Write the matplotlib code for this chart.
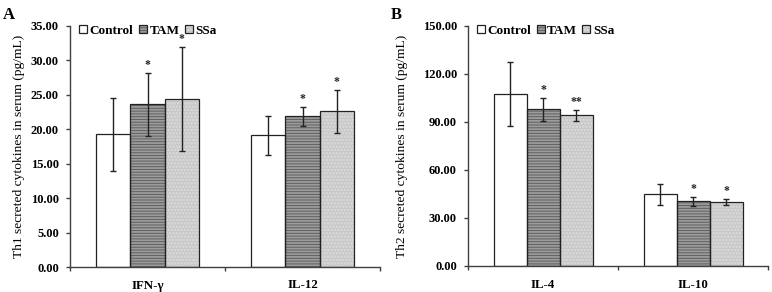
import matplotlib
matplotlib.use("Agg")
import matplotlib.pyplot as plt
from matplotlib.patches import Patch
from matplotlib.legend_handler import HandlerTuple
import numpy as np

plt.rcParams['font.family'] = ['Liberation Serif', 'DejaVu Serif']
plt.rcParams['font.weight'] = 'bold'
plt.rcParams['hatch.linewidth'] = 1.3

groups = ['Control', 'TAM', 'SSa']

# panel A (Th1)
cats_a = ['IFN-γ', 'IL-12']
mean_a = {'Control': [19.3, 19.1], 'TAM': [23.6, 21.9], 'SSa': [24.4, 22.6]}
err_a = {'Control': [5.3, 2.8], 'TAM': [4.6, 1.4], 'SSa': [7.6, 3.1]}
star_a = {'Control': ['', ''], 'TAM': ['*', '*'], 'SSa': ['*', '*']}

# panel B (Th2)
cats_b = ['IL-4', 'IL-10']
mean_b = {'Control': [107.3, 44.7], 'TAM': [97.9, 40.4], 'SSa': [94.2, 40.2]}
err_b = {'Control': [20.1, 6.3], 'TAM': [7.2, 2.6], 'SSa': [3.6, 1.9]}
star_b = {'Control': ['', ''], 'TAM': ['*', '*'], 'SSa': ['**', '*']}

styles = {
    'Control': dict(face='white', hatch=None, hcol='white'),
    'TAM': dict(face='#5f5f5f', hatch='------', hcol='#9c9c9c'),
    'SSa': dict(face='#c6c6c6', hatch='.....', hcol='#dedede'),
}
axis_col = '#404040'

fig = plt.figure(figsize=(7.72, 2.92), dpi=100)
ax_a = fig.add_axes([70 / 772, 1 - 267 / 292, 310 / 772, 241 / 292])
ax_b = fig.add_axes([468 / 772, 1 - 266 / 292, 300 / 772, 240 / 292])


def draw(ax, cats, means, errs, stars, ymax, ystep, ylabel, label_x):
    x = np.arange(len(cats))
    w = 0.22
    for i, g in enumerate(groups):
        st = styles[g]
        pos = x + (i - 1) * w
        ax.bar(pos, means[g], w, color=st['face'], hatch=st['hatch'],
               edgecolor=st['hcol'], linewidth=0, zorder=2)
        ax.bar(pos, means[g], w, fill=False, edgecolor='#222222',
               linewidth=0.9, zorder=3)
        ax.errorbar(pos, means[g], yerr=errs[g], fmt='none', ecolor='#222222',
                    elinewidth=1.0, capsize=2.5, capthick=1.0, zorder=4)
        for p, m, e, s in zip(pos, means[g], errs[g], stars[g]):
            if s:
                ax.text(p, m + e + ymax * 0.008, s, ha='center', va='bottom',
                        fontsize=8.5, color='#222222', zorder=5)
    ax.set_xlim(-0.5, len(cats) - 0.5)
    ax.set_ylim(0, ymax)
    ticks = np.arange(0, ymax + ystep / 2, ystep)
    ax.set_yticks(ticks)
    ax.set_yticklabels(['%.2f' % v for v in ticks])
    ax.set_xticks(x)
    ax.set_xticklabels(cats)
    ax.set_xticks(np.arange(-0.5, len(cats)), minor=True)
    ax.tick_params(axis='x', which='major', length=0, pad=9, labelsize=9.3)
    ax.tick_params(axis='x', which='minor', length=3, width=1, color=axis_col)
    ax.tick_params(axis='y', length=3, width=1, color=axis_col, pad=5, labelsize=9)
    for sp in ['top', 'right']:
        ax.spines[sp].set_visible(False)
    for sp in ['left', 'bottom']:
        ax.spines[sp].set_color(axis_col)
        ax.spines[sp].set_linewidth(1)
    ax.set_ylabel(ylabel, fontsize=9.7)
    ax.yaxis.set_label_coords(label_x, 0.5)

    handles = []
    for g in groups:
        st = styles[g]
        handles.append((Patch(facecolor=st['face'], hatch=st['hatch'],
                              edgecolor=st['hcol'], linewidth=0),
                        Patch(fill=False, edgecolor='#222222', linewidth=0.9)))
    ax.legend(handles, groups, ncol=3, loc='upper left',
              bbox_to_anchor=(0.03, 1.005), frameon=False, fontsize=9.5,
              handlelength=0.6, handleheight=0.6, handletextpad=0.2,
              columnspacing=0.4, borderpad=0, borderaxespad=0,
              handler_map={tuple: HandlerTuple(ndivide=1, pad=0)})


draw(ax_a, cats_a, mean_a, err_a, star_a, 35, 5,
     'Th1 secreted cytokines in serum (pg/mL)', -45 / 310)
draw(ax_b, cats_b, mean_b, err_b, star_b, 150, 30,
     'Th2 secreted cytokines in serum (pg/mL)', -60 / 300)

fig.text(3 / 772, 1 - 19 / 292, 'A', fontsize=12, fontweight='bold')
fig.text(391 / 772, 1 - 19 / 292, 'B', fontsize=12, fontweight='bold')

fig.savefig('out.png', dpi=100)
